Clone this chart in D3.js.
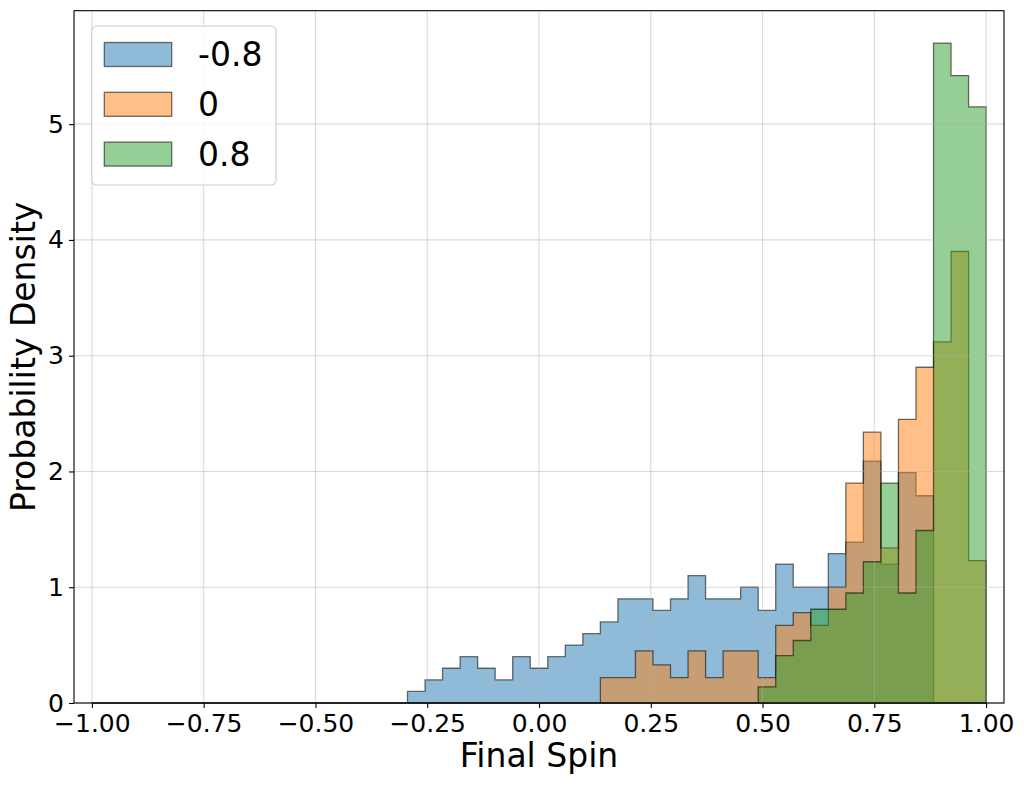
<!DOCTYPE html>
<html>
<head>
<meta charset="utf-8">
<script src="https://cdn.jsdelivr.net/npm/d3@7"></script>
<style>
  html, body { margin: 0; padding: 0; background: #fff; }
  svg { display: block; font-family: "DejaVu Sans", sans-serif; }
</style>
</head>
<body>
<svg id="chart" width="1024" height="785"></svg>
<script>
// ---- data (probability density per bin, 51 bins from -1 to 1) ----
const binLow = -1;
const binHigh = 1;
const binCount = 51;

const seriesNames = ["-0.8", "0", "0.8"];
const seriesColors = ["#1f77b4", "#ff7f0e", "#2ca02c"];

const densityNeg08 = [
  0,0,0,0,0,0,0,0,0,0,0,0,0,0,0,0,0,0,
  0.10,0.20,0.30,0.40,0.30,0.20,0.40,0.30,0.40,0.50,
  0.60,0.70,0.90,0.90,0.80,0.90,1.10,0.90,0.90,1.00,
  0.80,1.20,1.00,1.00,1.29,1.39,2.09,1.20,1.99,1.79,
  0,0,0
];
const density0 = [
  0,0,0,0,0,0,0,0,0,0,0,0,0,0,0,0,0,0,0,0,0,0,0,0,0,0,0,0,0,
  0.22,0.22,0.45,0.33,0.22,0.45,0.22,0.45,0.45,0.22,
  0.67,0.78,0.67,1.00,1.90,2.34,1.34,2.45,2.90,3.12,3.90,1.23
];
const density08 = [
  0,0,0,0,0,0,0,0,0,0,0,0,0,0,0,0,0,0,0,0,
  0,0,0,0,0,0,0,0,0,0,0,0,0,0,0,0,0,0,
  0.14,0.41,0.54,0.81,0.81,0.95,1.22,1.90,0.95,1.49,5.70,5.42,5.15
];

const xTicks = [-1.00, -0.75, -0.50, -0.25, 0.00, 0.25, 0.50, 0.75, 1.00];
const yTicks = [0, 1, 2, 3, 4, 5];
const xLabel = "Final Spin";
const yLabel = "Probability Density";

// ---- layout ----
const svg = d3.select("#chart");
const plot = { left: 74, right: 1004, top: 10.7, bottom: 703 };

const x = d3.scaleLinear().domain([-1.04, 1.04]).range([plot.left, plot.right]);
const y = d3.scaleLinear().domain([0, 5.98]).range([plot.bottom, plot.top]);

const edges = d3.range(binCount + 1).map(i => binLow + i * (binHigh - binLow) / binCount);
const allSeries = [densityNeg08, density0, density08];

// ---- histograms (stepfilled) ----
const line = d3.line().x(d => x(d[0])).y(d => y(d[1]));
const gHist = svg.append("g");
allSeries.forEach((vals, si) => {
  const pts = [[edges[0], 0]];
  vals.forEach((v, i) => {
    pts.push([edges[i], v]);
    pts.push([edges[i + 1], v]);
  });
  pts.push([edges[binCount], 0]);
  gHist.append("path")
    .attr("d", line(pts) + "Z")
    .attr("fill", seriesColors[si])
    .attr("fill-opacity", 0.5)
    .attr("stroke", "#000")
    .attr("stroke-opacity", 0.55)
    .attr("stroke-width", 1.3)
    .attr("stroke-linejoin", "miter");
});

// ---- grid (above patches, as in matplotlib) ----
const gGrid = svg.append("g");
xTicks.forEach(t => {
  gGrid.append("line")
    .attr("x1", x(t)).attr("x2", x(t))
    .attr("y1", plot.top).attr("y2", plot.bottom)
    .attr("stroke", "#b0b0b0").attr("stroke-opacity", 0.45).attr("stroke-width", 1.1);
});
yTicks.forEach(t => {
  gGrid.append("line")
    .attr("x1", plot.left).attr("x2", plot.right)
    .attr("y1", y(t)).attr("y2", y(t))
    .attr("stroke", "#b0b0b0").attr("stroke-opacity", 0.45).attr("stroke-width", 1.1);
});

// ---- axes ----
const fmtX = v => d3.format(".2f")(v).replace("-", "\u2212");
const xAxis = d3.axisBottom(x).tickValues(xTicks).tickSize(5).tickPadding(6).tickFormat(fmtX);
const yAxis = d3.axisLeft(y).tickValues(yTicks).tickSize(5).tickPadding(5).tickFormat(d3.format("d"));

const gx = svg.append("g").attr("transform", `translate(0,${plot.bottom})`).call(xAxis);
const gy = svg.append("g").attr("transform", `translate(${plot.left},0)`).call(yAxis);
[gx, gy].forEach(g => {
  g.select(".domain").remove();
  g.selectAll(".tick line").attr("stroke", "#000").attr("stroke-width", 1.1);
  g.selectAll(".tick text").attr("fill", "#000").attr("font-size", 25).attr("font-family", "DejaVu Sans");
});

// spines
svg.append("rect")
  .attr("x", plot.left).attr("y", plot.top)
  .attr("width", plot.right - plot.left).attr("height", plot.bottom - plot.top)
  .attr("fill", "none").attr("stroke", "#000").attr("stroke-width", 1.1);

// axis labels
svg.append("text")
  .attr("x", (plot.left + plot.right) / 2).attr("y", 766.5)
  .attr("text-anchor", "middle").attr("font-size", 33).attr("fill", "#000")
  .text(xLabel);
svg.append("text")
  .attr("transform", `translate(35,${(plot.top + plot.bottom) / 2}) rotate(-90)`)
  .attr("text-anchor", "middle").attr("font-size", 33).attr("fill", "#000")
  .text(yLabel);

// ---- legend ----
const gLeg = svg.append("g");
gLeg.append("rect")
  .attr("x", 91.7).attr("y", 26).attr("width", 184.3).attr("height", 159)
  .attr("rx", 5).attr("ry", 5)
  .attr("fill", "#fff").attr("fill-opacity", 0.8)
  .attr("stroke", "#cccccc").attr("stroke-width", 1.1);
seriesNames.forEach((name, i) => {
  const cy = 54.5 + i * 49.8;
  gLeg.append("rect")
    .attr("x", 104.3).attr("y", cy - 12).attr("width", 67.4).attr("height", 24)
    .attr("fill", seriesColors[i]).attr("fill-opacity", 0.5)
    .attr("stroke", "#000").attr("stroke-opacity", 0.55).attr("stroke-width", 1.3);
  gLeg.append("text")
    .attr("x", 198).attr("y", cy).attr("dy", "0.36em")
    .attr("font-size", 33).attr("fill", "#000")
    .text(name);
});
</script>
</body>
</html>
